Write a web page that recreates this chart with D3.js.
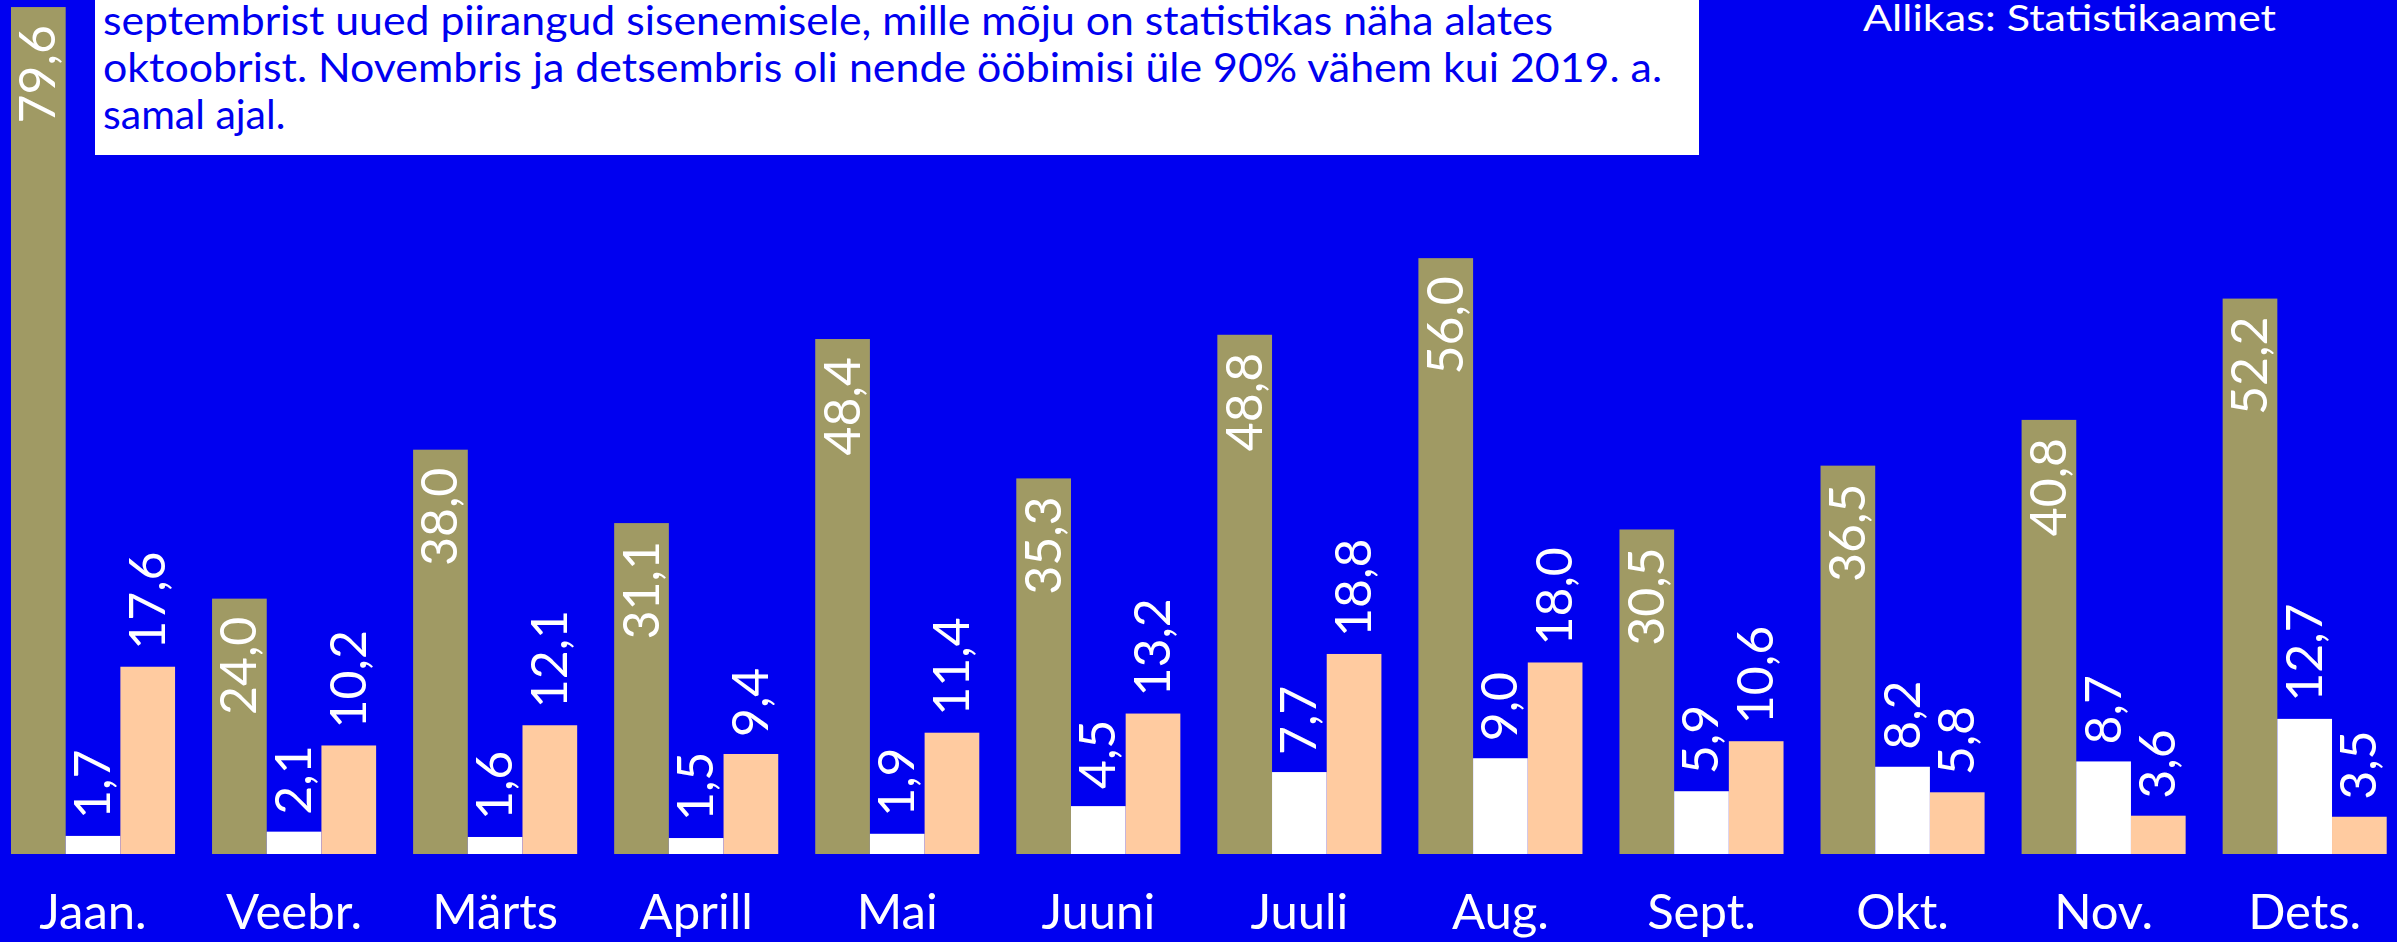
<!DOCTYPE html>
<html>
<head>
  <meta charset="UTF-8">
  <style>
    body {
      margin: 0;
      padding: 0;
      background-color: #0000f0;
      overflow: hidden;
    }
    svg {
      display: block;
      font-family: Lato, "Open Sans", sans-serif;
    }
  </style>
</head>
<body>
  <svg></svg>
  <script src="https://d3js.org/d3.v7.min.js"></script>

  <script>
  // data (units not visible in the crop)
  const months = ["Jaan.", "Veebr.", "Märts", "Aprill", "Mai", "Juuni", "Juuli", "Aug.", "Sept.", "Okt.", "Nov.", "Dets."];
  const seriesA = [79.6, 24.0, 38.0, 31.1, 48.4, 35.3, 48.8, 56.0, 30.5, 36.5, 40.8, 52.2];
  const seriesB = [1.7, 2.1, 1.6, 1.5, 1.9, 4.5, 7.7, 9.0, 5.9, 8.2, 8.7, 12.7];
  const seriesC = [17.6, 10.2, 12.1, 9.4, 11.4, 13.2, 18.8, 18.0, 10.6, 5.8, 3.6, 3.5];
  const seriesKeys = ["a", "b", "c"];
  const seriesColors = ["#a09a64", "#ffffff", "#ffcba0"];

  const noteLines = [
    "septembrist uued piirangud sisenemisele, mille mõju on statistikas näha alates",
    "oktoobrist. Novembris ja detsembris oli nende ööbimisi üle 90% vähem kui 2019. a.",
    "samal ajal."
  ];
  const source = "Allikas: Statistikaamet";

  let width = 2397, height = 942;
  const blue = "#0000f0";

  let svg = d3.select("svg")
      .attr("width", width)
      .attr("height", height);

  svg.append("rect")
      .attr("width", width)
      .attr("height", height)
      .attr("fill", blue);

  const rows = months.map((m, i) => ({month: m, a: seriesA[i], b: seriesB[i], c: seriesC[i]}));

  const x = d3.scaleBand()
      .domain(months)
      .range([-7.5, 2405.2])
      .paddingInner(0.184)
      .paddingOuter(0.092);

  const xInner = d3.scaleBand()
      .domain(seriesKeys)
      .range([0, x.bandwidth()]);

  const y = d3.scaleLinear()
      .domain([0, 80])
      .range([854, 854 - 80 * 10.64]);

  const groups = svg.append("g")
      .selectAll("g")
      .data(rows)
      .enter()
      .append("g")
      .attr("transform", d => `translate(${x(d.month)},0)`);

  const bars = groups.selectAll("g.bar")
      .data(d => seriesKeys.map((k, i) => ({key: k, value: d[k], color: seriesColors[i]})))
      .enter()
      .append("g")
      .attr("class", "bar");

  bars.append("rect")
      .attr("x", d => xInner(d.key))
      .attr("y", d => y(d.value))
      .attr("width", xInner.bandwidth())
      .attr("height", d => y(0) - y(d.value))
      .attr("fill", d => d.color);

  // value labels, rotated; first series sits inside the bar top, others above
  const fmt = v => v.toFixed(1).replace(".", ",");
  bars.append("text")
      .attr("transform", d => {
          let cx = xInner(d.key) + xInner.bandwidth() / 2 + 17;
          let cy = d.key === "a" ? y(d.value) + 18 : y(d.value) - 17;
          return `translate(${cx},${cy}) rotate(-90)`;
      })
      .attr("text-anchor", d => d.key === "a" ? "end" : "start")
      .attr("fill", "white")
      .style("font-size", "50px")
      .text(d => fmt(d.value));

  // month labels
  svg.append("g")
      .selectAll("text")
      .data(months)
      .enter()
      .append("text")
      .attr("x", d => x(d) + x.bandwidth() / 2)
      .attr("y", 929)
      .attr("text-anchor", "middle")
      .attr("fill", "white")
      .style("font-size", "49px")
      .text(d => d);

  // note box (cut off at the top)
  const note = svg.append("g");
  note.append("rect")
      .attr("x", 95)
      .attr("y", -60)
      .attr("width", 1699 - 95)
      .attr("height", 155 + 60)
      .attr("fill", "white");

  const noteWidths = [1450, 1559, null];
  note.selectAll("text")
      .data(noteLines)
      .enter()
      .append("text")
      .attr("x", 103)
      .attr("y", (d, i) => 35 + i * 47)
      .attr("fill", blue)
      .style("font-size", "41px")
      .each(function (d, i) {
          if (noteWidths[i]) {
              d3.select(this)
                  .attr("textLength", noteWidths[i])
                  .attr("lengthAdjust", "spacingAndGlyphs");
          }
      })
      .text(d => d);

  svg.append("text")
      .attr("x", 1863)
      .attr("y", 31)
      .attr("fill", "white")
      .style("font-size", "37px")
      .attr("textLength", 413)
      .attr("lengthAdjust", "spacingAndGlyphs")
      .text(source);
  </script>

</body>
</html>
